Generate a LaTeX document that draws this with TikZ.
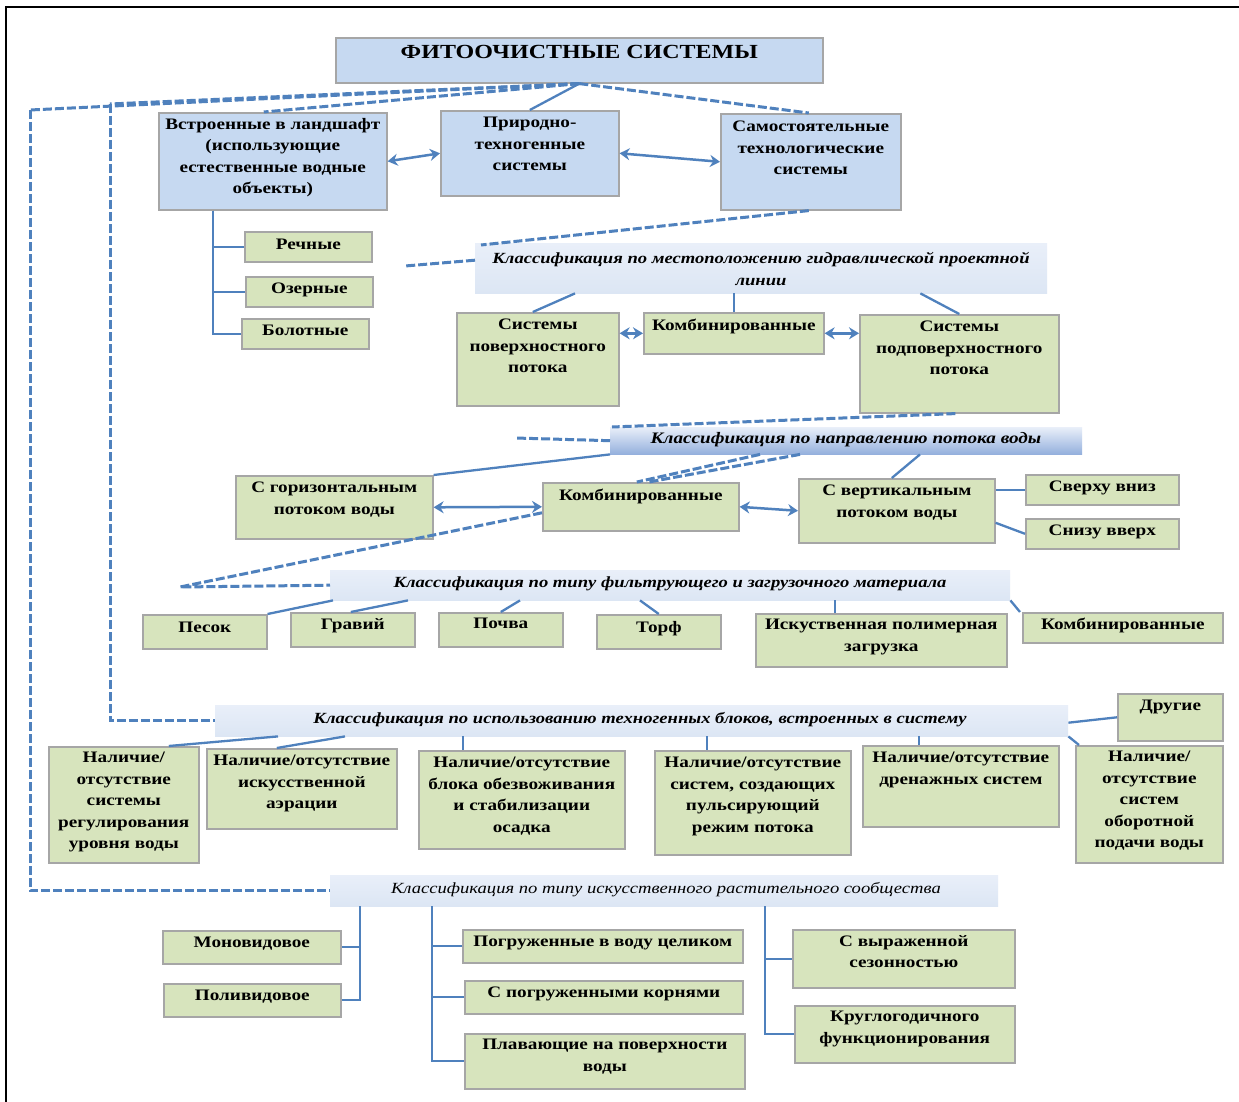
\documentclass[tikz,border=0pt]{standalone}
\usepackage{fontspec}
\setmainfont{Liberation Serif}[FakeStretch=1.2]
\usetikzlibrary{arrows.meta,shadows}
\definecolor{lnblue}{HTML}{4F81BD}
\definecolor{bfill}{HTML}{C6D9F1}
\definecolor{gfill}{HTML}{D7E4BD}
\definecolor{bord}{HTML}{A6A6A6}
\definecolor{barlt}{HTML}{E9EFF9}
\definecolor{barlt2}{HTML}{DCE6F4}
\definecolor{bardk}{HTML}{94B0DD}
\tikzset{
  boxst/.style={draw=bord, line width=1.6pt, inner sep=0pt,
    drop shadow={shadow xshift=1.6pt, shadow yshift=-1.6pt, fill=gray!45, opacity=1}},
  bluebox/.style={boxst, fill=bfill},
  greenbox/.style={boxst, fill=gfill},
  txt/.style={font=\bfseries\fontsize{16}{21.5}\selectfont, align=center, inner sep=0pt},
  barst/.style={draw=none, inner sep=0pt, top color=barlt, bottom color=barlt2},
  bardark/.style={draw=none, inner sep=0pt, top color=barlt, bottom color=bardk},
  bartxt/.style={font=\bfseries\itshape\fontsize{15.5}{22}\selectfont, align=center, inner sep=0pt},
  bartxtlight/.style={font=\itshape\fontsize{15.5}{20}\selectfont, align=center, inner sep=0pt},
  ln/.style={draw=lnblue, line width=2.3pt},
  dln/.style={draw=lnblue, line width=3pt, dash pattern=on 9pt off 3pt},
  dbl/.style={draw=lnblue, line width=2.5pt, {Stealth[length=10pt,width=12pt]}-{Stealth[length=10pt,width=12pt]}}
}
\newcommand\mkbox[8]{%
  \pgfmathsetmacro\mkbw{#5-#3}%
  \pgfmathsetmacro\mkbh{#6-#4}%
  \node[#1, minimum width=\mkbw pt, minimum height=\mkbh pt, anchor=north west] (#2) at (#3,#4) {};%
  \node[txt, anchor=north] (#2-t) at ([yshift=-#7pt]#2.north) {#8};%
}
\newcommand\mkbar[7]{%
  \pgfmathsetmacro\mkbw{#4-#2}%
  \pgfmathsetmacro\mkbh{#5-#3}%
  \node[#1, minimum width=\mkbw pt, minimum height=\mkbh pt, anchor=north west] (#6) at (#2,#3) {};%
  #7%
}
\begin{document}
\begin{tikzpicture}[x=1pt,y=-1pt]
\useasboundingbox (0,0) rectangle (1239,1102);
\fill[white] (0,0) rectangle (1239,1102);
% frame
\draw[black, line width=2.2pt] (6,1102) -- (6,7) -- (1239,7);

% ---------- top level
\node[bluebox, minimum width=487pt, minimum height=45pt, anchor=north west] (title) at (335,37) {};
\node[font=\bfseries\fontsize{20}{24}\selectfont, inner sep=0pt, anchor=north] (title-t) at ([yshift=-8pt]title.north) {ФИТООЧИСТНЫЕ СИСТЕМЫ};

\mkbox{bluebox}{A}{158}{112}{386}{209}{6}{Встроенные в ландшафт\\(использующие\\естественные водные\\объекты)}
\mkbox{bluebox}{B}{440}{110}{618}{195}{7}{Природно-\\техногенные\\системы}
\mkbox{bluebox}{C}{720}{113}{900}{209}{8}{Самостоятельные\\технологические\\системы}

\mkbox{greenbox}{rech}{244}{231}{371}{261}{8}{Речные}
\mkbox{greenbox}{ozer}{245}{276}{372}{306}{7}{Озерные}
\mkbox{greenbox}{bolot}{241}{318}{368}{348}{7}{Болотные}

% ---------- bar 1
\mkbar{barst}{475}{243}{1047}{293}{bar1}{}
\node[bartxt] (bar1-t) at (761,269) {Классификация по  местоположению гидравлической проектной\\линии};

\mkbox{greenbox}{D}{456}{312}{618}{405}{7}{Системы\\поверхностного\\потока}
\mkbox{greenbox}{E}{643}{312}{823}{353}{7}{Комбинированные}
\mkbox{greenbox}{F}{859}{314}{1058}{412}{7}{Системы\\подповерхностного\\потока}

% ---------- bar 2
\mkbar{bardark}{610}{427}{1082}{454}{bar2}{}
\node[bartxt, font=\bfseries\itshape\fontsize{16}{22}\selectfont] (bar2-t) at (846,440) {Классификация по  направлению потока воды};

\mkbox{greenbox}{G}{235}{475}{432}{538}{7}{С горизонтальным\\потоком воды}
\mkbox{greenbox}{H}{542}{482}{738}{530}{7}{Комбинированные}
\mkbox{greenbox}{I}{798}{478}{994}{542}{7}{С вертикальным\\потоком воды}
\mkbox{greenbox}{J}{1025}{474}{1178}{504}{7}{Сверху вниз}
\mkbox{greenbox}{K}{1025}{518}{1178}{548}{7}{Снизу вверх}

% ---------- bar 3
\mkbar{barst}{330}{570}{1010}{600}{bar3}{}
\node[bartxt] (bar3-t) at (670,584) {Классификация по типу фильтрующего и загрузочного  материала};

\mkbox{greenbox}{pesok}{142}{614}{266}{648}{8}{Песок}
\mkbox{greenbox}{gravii}{290}{612}{414}{646}{6}{Гравий}
\mkbox{greenbox}{pochva}{438}{612}{562}{646}{6}{Почва}
\mkbox{greenbox}{torf}{596}{614}{720}{648}{7}{Торф}
\mkbox{greenbox}{poly}{755}{613}{1006}{666}{6}{Искуственная полимерная\\загрузка}
\mkbox{greenbox}{komb3}{1022}{612}{1222}{642}{6}{Комбинированные}

% ---------- bar 4
\mkbar{barst}{215}{705}{1068}{736}{bar4}{}
\node[bartxt] (bar4-t) at (640,720) {Классификация по  использованию техногенных блоков, встроенных в систему};

\mkbox{greenbox}{L}{48}{746}{198}{862}{6}{Наличие/\\отсутствие\\системы\\регулирования\\уровня воды}
\mkbox{greenbox}{M}{206}{748}{396}{828}{7}{Наличие/отсутствие\\искусственной\\аэрации}
\mkbox{greenbox}{N}{418}{750}{624}{848}{7}{Наличие/отсутствие\\блока обезвоживания\\и стабилизации\\осадка}
\mkbox{greenbox}{O}{654}{750}{850}{854}{7}{Наличие/отсутствие\\систем, создающих\\пульсирующий\\режим потока}
\mkbox{greenbox}{P}{862}{745}{1058}{826}{7}{Наличие/отсутствие\\дренажных систем}
\mkbox{greenbox}{Q}{1075}{745}{1222}{862}{6}{Наличие/\\отсутствие\\систем\\оборотной\\подачи воды}
\mkbox{greenbox}{R}{1117}{693}{1222}{740}{7}{Другие}

% ---------- bar 5
\mkbar{barst}{330}{875}{998}{906}{bar5}{}
\node[bartxtlight] (bar5-t) at (666,890) {Классификация по типу искусственного растительного сообщества};

\mkbox{greenbox}{mono}{162}{930}{340}{963}{7}{Моновидовое}
\mkbox{greenbox}{poli}{163}{983}{340}{1016}{7}{Поливидовое}
\mkbox{greenbox}{pogr}{462}{929}{742}{962}{7}{Погруженные в воду целиком}
\mkbox{greenbox}{korn}{464}{980}{742}{1013}{7}{С погруженными корнями}
\mkbox{greenbox}{plav}{464}{1033}{744}{1088}{6}{Плавающие на поверхности\\воды}
\mkbox{greenbox}{sez}{792}{929}{1014}{987}{6}{С выраженной\\сезонностью}
\mkbox{greenbox}{krug}{794}{1005}{1014}{1062}{6}{Круглогодичного\\функционирования}

% ================= connectors
\coordinate (c1) at (30,110);
\coordinate (c2) at (110,104);
\draw[ln] (title.south) -- (B.north);
\draw[dln] (title.south) -- ([xshift=-9pt]A.north);
\draw[dln] (title.south) -- ([xshift=-2pt]C.north);
\draw[dln] (title.south) -- (c2);
\draw[dln] (title.south) -- (c1);
\draw[dln] (c2) |- (bar4.west);
\draw[dln] (c1) |- (bar5.west);

\draw[dbl] (A.east) -- (B.west);
\draw[dbl] (B.east) -- (C.west);

\coordinate (a0) at ([xshift=-60pt]A.south);
\draw[ln] (a0) |- (rech.west);
\draw[ln] (a0) |- (ozer.west);
\draw[ln] (a0) |- (bolot.west);

\coordinate (b1tail) at (405,266);
\draw[dln] ([xshift=-2pt]C.south) -- ([xshift=6pt,yshift=-2pt]bar1.north west);
\draw[dln] ([yshift=8pt]bar1.west) -- (b1tail);

\draw[ln] ([xshift=100pt]bar1.south west) -- ([xshift=-5pt]D.north);
\draw[ln] (E.north |- bar1.south) -- (E.north);
\draw[ln] ([xshift=-127pt]bar1.south east) -- (F.north);

\draw[dbl] (D.east |- E.west) -- (E.west);
\draw[dbl] (E.east) -- (F.west |- E.east);

\coordinate (b2tail) at (515,438);
\draw[dln] ([xshift=-4pt]F.south) -- ([xshift=2pt]bar2.north west);
\draw[dln] (bar2.west) -- (b2tail);

\draw[ln] (bar2.south west) -- (G.north east);
\draw[dln] ([xshift=190pt]bar2.south west) -- ([xshift=8pt]H.north);
\draw[dln] ([xshift=150pt]bar2.south west) -- ([xshift=-4pt]H.north);
\draw[ln] ([xshift=310pt]bar2.south west) -- ([xshift=-5pt]I.north);

\draw[dbl] (G.east) -- (H.west);
\draw[dbl] (H.east) -- (I.west);
\draw[ln] (I.east |- J.west) -- (J.west);
\draw[ln] ([yshift=-12pt]I.east) -- (K.west);

\coordinate (c3) at (180,587);
\draw[dln] ([yshift=-6pt]H.west) -- (c3) -- (bar3.west);

\draw[ln] ([xshift=3pt]bar3.south west) -- (pesok.north east);
\draw[ln] ([xshift=78pt]bar3.south west) -- ([xshift=-2pt]gravii.north);
\draw[ln] ([xshift=190pt]bar3.south west) -- (pochva.north);
\draw[ln] ([xshift=310pt]bar3.south west) -- (torf.north);
\coordinate (p5) at ([xshift=-46pt]poly.north);
\draw[ln] (p5 |- bar3.south) -- (p5);
\draw[ln] (bar3.south east) -- ([xshift=-2pt]komb3.north west);

\draw[ln] ([xshift=63pt]bar4.south west) -- ([xshift=45pt]L.north);
\draw[ln] ([xshift=130pt]bar4.south west) -- ([xshift=-25pt]M.north);
\coordinate (nn) at ([xshift=-59pt]N.north);
\draw[ln] (nn |- bar4.south) -- (nn);
\coordinate (oo) at ([xshift=-46pt]O.north);
\draw[ln] (oo |- bar4.south) -- (oo);
\coordinate (pp) at ([xshift=-42pt]P.north);
\draw[ln] (pp |- bar4.south) -- (pp);
\draw[ln] (bar4.south east) -- ([xshift=4pt]Q.north west);
\draw[ln] ([yshift=-2pt]bar4.east) -- (R.west);

\coordinate (v1) at ([xshift=30pt]bar5.south west);
\coordinate (v2) at ([xshift=102pt]bar5.south west);
\coordinate (v3) at ([xshift=435pt]bar5.south west);
\draw[ln] (v1) |- (mono.east);
\draw[ln] (v1) |- (poli.east);
\draw[ln] (v2) |- (pogr.west);
\draw[ln] (v2) |- (korn.west);
\draw[ln] (v2) |- (plav.west);
\draw[ln] (v3) |- (sez.west);
\draw[ln] (v3) |- (krug.west);
\end{tikzpicture}
\end{document}
